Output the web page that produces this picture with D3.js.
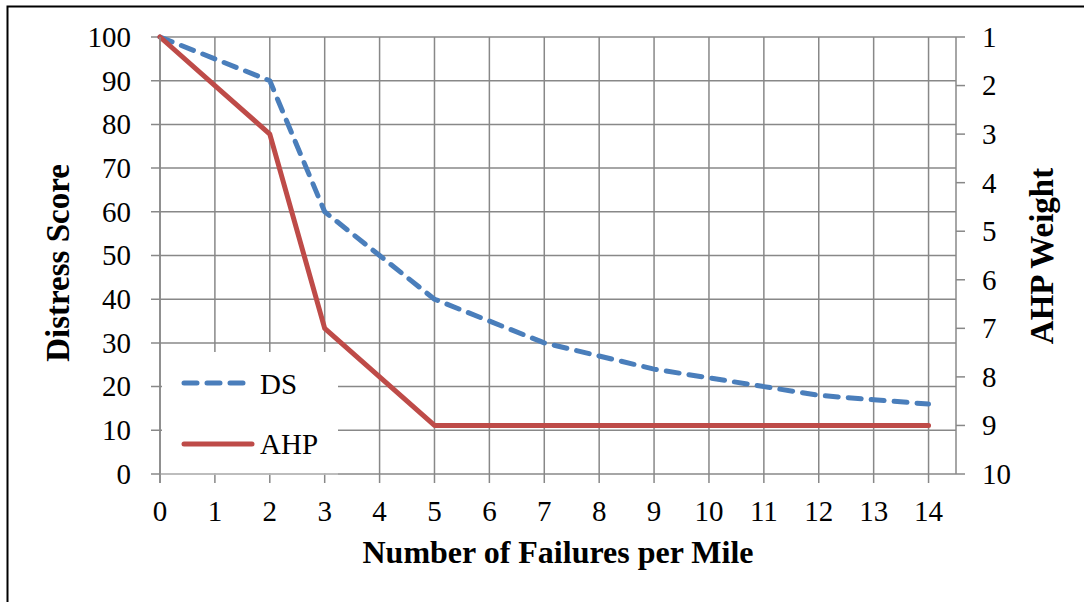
<!DOCTYPE html>
<meta charset="utf-8">
<head>
<title>Distress Score vs AHP Weight</title>
<script src="https://d3js.org/d3.v7.min.js"></script>
</head>
<style>
html, body {
  margin: 0;
  background: #fff;
  overflow: hidden;
}
text {
  font-family: "Liberation Serif", "Times New Roman", serif;
  fill: #000;
}
.grid line { stroke: #888; stroke-width: 1.5px; }
</style>
<body>
<script>

// chart data
var failures = [0, 1, 2, 3, 4, 5, 6, 7, 8, 9, 10, 11, 12, 13, 14];
var dsScore  = [100, 95, 90, 60, 50, 40, 35, 30, 27, 24, 22, 20, 18, 17, 16];
var ahpWeight = [1, 2, 3, 7, 8, 9, 9, 9, 9, 9, 9, 9, 9, 9, 9];

var leftTicks  = [0, 10, 20, 30, 40, 50, 60, 70, 80, 90, 100];
var rightTicks = [1, 2, 3, 4, 5, 6, 7, 8, 9, 10];
var xTicks = failures;

var width = 1084, height = 602;

var svg = d3.select("body").append("svg")
    .attr("width", width)
    .attr("height", height);

// outer frame (only top and left edges show)
svg.append("path")
    .attr("d", "M7.5,602 L7.5,6.5 L1084,6.5")
    .attr("fill", "none")
    .attr("stroke", "#000")
    .attr("stroke-width", 2);

var x = d3.scaleLinear().domain([0, 14.5]).range([160, 956]);
var yL = d3.scaleLinear().domain([0, 100]).range([474, 37]);
var yR = d3.scaleLinear().domain([1, 10]).range([37, 474]);

var grid = svg.append("g").attr("class", "grid");

// horizontal gridlines + left ticks
grid.selectAll(".h").data(leftTicks).enter().append("line")
    .attr("x1", 151).attr("x2", 956)
    .attr("y1", function(d) { return yL(d); })
    .attr("y2", function(d) { return yL(d); });

// vertical gridlines + bottom ticks
grid.selectAll(".v").data(xTicks).enter().append("line")
    .attr("x1", function(d) { return x(d); })
    .attr("x2", function(d) { return x(d); })
    .attr("y1", 37).attr("y2", 483);

// right axis line and ticks
grid.append("line").attr("x1", 956).attr("x2", 956).attr("y1", 37).attr("y2", 474);
grid.selectAll(".r").data(rightTicks).enter().append("line")
    .attr("x1", 956).attr("x2", 965)
    .attr("y1", function(d) { return yR(d); })
    .attr("y2", function(d) { return yR(d); });

// tick labels
svg.append("g").selectAll("text").data(leftTicks).enter().append("text")
    .attr("x", 131)
    .attr("y", function(d) { return yL(d); })
    .attr("dy", "0.34em")
    .attr("text-anchor", "end")
    .style("font-size", "29px")
    .text(function(d) { return d; });

svg.append("g").selectAll("text").data(rightTicks).enter().append("text")
    .attr("x", 982)
    .attr("y", function(d) { return yR(d); })
    .attr("dy", "0.34em")
    .attr("text-anchor", "start")
    .style("font-size", "29px")
    .text(function(d) { return d; });

svg.append("g").selectAll("text").data(xTicks).enter().append("text")
    .attr("x", function(d) { return x(d); })
    .attr("y", 521)
    .attr("text-anchor", "middle")
    .style("font-size", "29px")
    .text(function(d) { return d; });

// axis titles
svg.append("text")
    .attr("x", 558).attr("y", 563)
    .attr("text-anchor", "middle")
    .style("font-size", "32px").style("font-weight", "bold")
    .text("Number of Failures per Mile");

svg.append("text")
    .attr("transform", "translate(69,263) rotate(-90)")
    .attr("text-anchor", "middle")
    .style("font-size", "33px").style("font-weight", "bold")
    .text("Distress Score");

svg.append("text")
    .attr("transform", "translate(1053,256) rotate(-90)")
    .attr("text-anchor", "middle")
    .style("font-size", "33px").style("font-weight", "bold")
    .text("AHP Weight");

// series
var dsLine = d3.line()
    .x(function(d, i) { return x(failures[i]); })
    .y(function(d) { return yL(d); });

var ahpLine = d3.line()
    .x(function(d, i) { return x(failures[i]); })
    .y(function(d) { return yR(d); });

svg.append("path")
    .datum(dsScore)
    .attr("d", dsLine)
    .attr("fill", "none")
    .attr("stroke", "#4a7ebb")
    .attr("stroke-width", 5)
    .attr("stroke-dasharray", "13 10")
    .attr("stroke-linecap", "round")
    .attr("stroke-linejoin", "round");

svg.append("path")
    .datum(ahpWeight)
    .attr("d", ahpLine)
    .attr("fill", "none")
    .attr("stroke", "#be4b48")
    .attr("stroke-width", 5)
    .attr("stroke-linecap", "round")
    .attr("stroke-linejoin", "round");

// legend
var legend = svg.append("g");
legend.append("rect")
    .attr("x", 162).attr("y", 352)
    .attr("width", 176).attr("height", 121)
    .attr("fill", "#fff");

legend.append("line")
    .attr("x1", 184).attr("x2", 244)
    .attr("y1", 383).attr("y2", 383)
    .attr("stroke", "#4a7ebb")
    .attr("stroke-width", 5)
    .attr("stroke-dasharray", "13 10")
    .attr("stroke-linecap", "round");
legend.append("text")
    .attr("x", 260).attr("y", 394)
    .style("font-size", "29px")
    .text("DS");

legend.append("line")
    .attr("x1", 184).attr("x2", 252)
    .attr("y1", 444).attr("y2", 444)
    .attr("stroke", "#be4b48")
    .attr("stroke-width", 5)
    .attr("stroke-linecap", "round");
legend.append("text")
    .attr("x", 260).attr("y", 454)
    .style("font-size", "29px")
    .text("AHP");

// bottom axis line where the legend box covers it
svg.append("line")
    .attr("x1", 160).attr("x2", 338)
    .attr("y1", 474).attr("y2", 474)
    .attr("stroke", "#c4c4c4").attr("stroke-width", 1.5);
svg.append("line")
    .attr("x1", 160).attr("x2", 160)
    .attr("y1", 37).attr("y2", 483)
    .attr("stroke", "#888").attr("stroke-width", 1.5);

</script>
</body>
